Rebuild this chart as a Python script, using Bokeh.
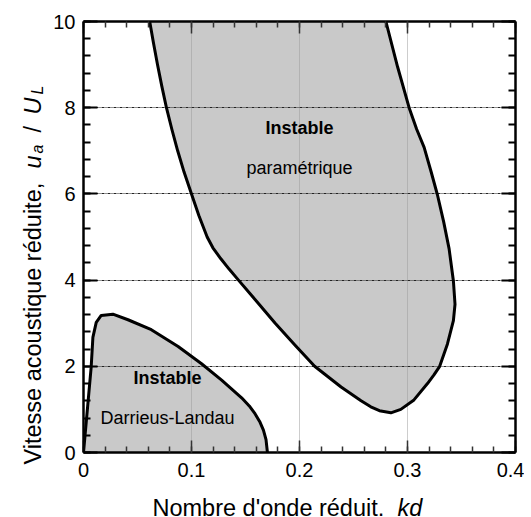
import math
from bokeh.plotting import figure
from bokeh.layouts import row, column
from bokeh.models import (LinearAxis, SingleIntervalTicker, Range1d, Label,
                          CustomJSTickFormatter)
from bokeh.core.properties import value
from bokeh.embed import file_html
from bokeh.resources import INLINE

# ---- data ----
# Darrieus-Landau unstable region boundary (kd, ua/UL)
dl_kd = [0.0, 0.0071, 0.0087, 0.0118, 0.0164, 0.0272, 0.0412, 0.0628, 0.0876,
         0.1093, 0.1279, 0.1464, 0.1535, 0.1588, 0.1635, 0.1666, 0.169, 0.1703]
dl_u = [0.0, 1.98, 2.67, 3.02, 3.18, 3.21, 3.08, 2.85, 2.46,
        2.06, 1.68, 1.27, 1.08, 0.90, 0.70, 0.52, 0.30, 0.0]

# Parametric unstable region boundary (kd, ua/UL)
par_kd = [0.0613, 0.0648, 0.0685, 0.0725, 0.0768, 0.0818, 0.0872, 0.0932,
          0.100, 0.1068, 0.1145, 0.1198, 0.127, 0.135, 0.1435, 0.1606, 0.1775,
          0.1955, 0.214, 0.2385, 0.257, 0.266, 0.274, 0.2846, 0.2938, 0.306,
          0.3185, 0.3245, 0.3298, 0.337, 0.3425, 0.344, 0.3425, 0.340, 0.3385,
          0.3335, 0.3277, 0.3218, 0.3154, 0.3085, 0.3015, 0.2908, 0.280]
par_u = [10.0, 9.5, 9.0, 8.5, 8.0, 7.5, 7.0, 6.5,
         6.0, 5.5, 5.0, 4.75, 4.5, 4.25, 4.0, 3.5, 3.0,
         2.5, 2.0, 1.52, 1.2, 1.06, 0.97, 0.92, 1.0, 1.22,
         1.60, 1.80, 2.0, 2.52, 3.06, 3.44, 3.98, 4.45, 4.73,
         5.35, 5.98, 6.52, 7.08, 7.5, 8.0, 8.95, 10.0]

x_limits = (0.0, 0.4)
y_limits = (0.0, 10.0)
x_tick_step = 0.1
y_tick_step = 2

FONT = "Liberation Sans"

# page geometry (px)
YW = 50            # width of the y-title strip
BL, BR, BT, BB = 32, 9, 21, 30
FW, FH = 432, 431
MAIN_H = BT + FH + BB
TOTAL_W = YW + BL + FW + BR
XSTRIP_H = 34

# ---------------- main chart ----------------
p = figure(frame_width=FW, frame_height=FH, title=None,
           x_range=Range1d(*x_limits), y_range=Range1d(*y_limits),
           output_backend="svg", toolbar_location=None,
           min_border_left=BL, min_border_right=BR,
           min_border_top=BT, min_border_bottom=BB,
           background_fill_color="white", border_fill_color="white")
p.outline_line_color = None

xt = SingleIntervalTicker(interval=x_tick_step, num_minor_ticks=5)
yt = SingleIntervalTicker(interval=y_tick_step, num_minor_ticks=5)

# filled regions (below grid)
p.patch(dl_kd, dl_u, fill_color="#c9c9c9", line_color=None, level="image")
p.patch(par_kd, par_u, fill_color="#c9c9c9", line_color=None, level="image")
# boundaries
p.line(dl_kd, dl_u, line_color="black", line_width=3, line_join="round")
p.line(par_kd, par_u, line_color="black", line_width=3, line_join="round")

# axes
bottom = p.below[0]
left = p.left[0]
bottom.ticker = xt
left.ticker = yt
top = LinearAxis(ticker=xt, formatter=CustomJSTickFormatter(code="return ''"))
right = LinearAxis(ticker=yt, formatter=CustomJSTickFormatter(code="return ''"))
p.add_layout(top, "above")
p.add_layout(right, "right")


def style(ax, major_in, minor_in, tw, tc):
    ax.axis_line_width = 2.5
    ax.axis_line_color = "black"
    ax.major_tick_in = major_in
    ax.major_tick_out = 0
    ax.minor_tick_in = minor_in
    ax.minor_tick_out = 0
    ax.major_tick_line_width = tw
    ax.minor_tick_line_width = tw
    ax.major_tick_line_color = tc
    ax.minor_tick_line_color = tc
    ax.major_label_text_font = FONT
    ax.major_label_text_font_size = "20px"
    ax.major_label_text_color = "black"


style(bottom, 12, 6, 1.5, "#333333")
style(top, 12, 6, 1.5, "#333333")
style(left, 14, 7, 2, "black")
style(right, 14, 7, 2, "black")
bottom.major_label_standoff = 10
left.major_label_standoff = 8
for ax in (top, right):
    ax.major_label_standoff = 0
    ax.major_label_text_font_size = "1px"

# grids
p.xgrid.ticker = xt
p.ygrid.ticker = yt
p.xgrid.grid_line_color = "#9a9a9a"
p.xgrid.grid_line_dash = "1 1"
p.xgrid.grid_line_width = 1
p.ygrid.grid_line_color = "#222222"
p.ygrid.grid_line_dash = "3 1 1 1"
p.ygrid.grid_line_width = 1


def lab(x, y, text, bold=False, size="18px"):
    p.add_layout(Label(x=x, y=y, text=text, text_align="center",
                       text_baseline="middle", text_font=FONT,
                       text_font_size=size,
                       text_font_style="bold" if bold else "normal",
                       text_color="black"))


lab(0.2, 7.52, "Instable", bold=True)
lab(0.2, 6.61, "paramétrique")
lab(0.0778, 1.72, "Instable", bold=True)
lab(0.0778, 0.79, "Darrieus-Landau")

# ---------------- axis titles (text-only strips, pixel coordinates) ----
AX = "23.5px"
SUB = "16px"


def piece(f, x, y, text, size, style_, angle=0.0):
    f.text(x=[x], y=[y], text=[text], angle=angle, text_align="left",
           text_baseline="alphabetic", text_font=value(FONT),
           text_font_size=value(size), text_font_style=style_,
           text_color="black")


def strip(w, h):
    # coordinates: x from the strip's left edge, y from the strip's top edge
    f = figure(frame_width=w, frame_height=h, min_border=0, title=None,
               x_range=Range1d(0, w), y_range=Range1d(h, 0),
               output_backend="svg", toolbar_location=None,
               x_axis_location=None, y_axis_location=None,
               background_fill_color="white", border_fill_color="white")
    f.outline_line_color = None
    f.xgrid.visible = False
    f.ygrid.visible = False
    return f


# y title strip (left of the chart)
ytitle = strip(YW, MAIN_H)
R = math.pi / 2
piece(ytitle, 32, 443, "Vitesse acoustique réduite,", AX, "normal", R)
piece(ytitle, 32, 147, "u", AX, "italic", R)
piece(ytitle, 37, 132, "a", SUB, "italic", R)
piece(ytitle, 32, 111, "/", AX, "normal", R)
piece(ytitle, 32, 93, "U", AX, "italic", R)
piece(ytitle, 37, 73, "L", SUB, "italic", R)

# x title strip (below the chart)
xtitle = strip(TOTAL_W, XSTRIP_H)
piece(xtitle, 152, 25, "Nombre d'onde réduit,", AX, "normal")
piece(xtitle, 397, 25, "kd", AX, "italic")

layout = column(row(ytitle, p, spacing=0), xtitle, spacing=0)

open("out.html", "w").write(file_html(layout, INLINE))
